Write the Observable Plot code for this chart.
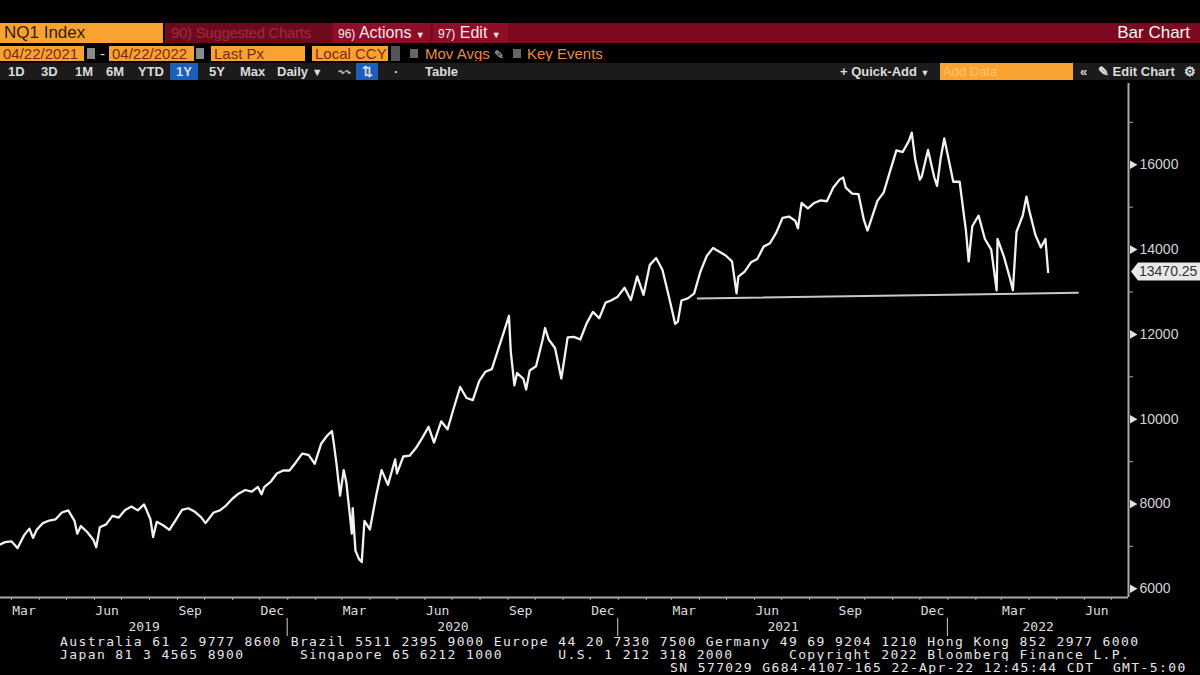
<!DOCTYPE html>
<html><head><meta charset="utf-8">
<script src="https://cdn.jsdelivr.net/npm/d3@7"></script>
<script src="https://cdn.jsdelivr.net/npm/@observablehq/plot@0.6"></script>
<style>
html,body{margin:0;padding:0;background:#000;}
body{width:1200px;height:675px;overflow:hidden;position:relative;font-family:"Liberation Sans Narrow","Liberation Sans",Arial,sans-serif;}
.a{position:absolute;white-space:pre;box-sizing:border-box;overflow:hidden;}
.r1{top:23px;height:20px;line-height:20px;font-size:17px;}
.r2{top:46px;height:15px;line-height:15px;font-size:15px;}
.r3{top:63px;height:17px;line-height:17px;font-size:13px;color:#dcdcdc;font-weight:bold;}
.or{background:#f8a331;color:#3a1a05;padding-left:4px;}
.or2{background:#f8a331;color:#7d2a10;padding-left:3px;}
.red{background:#7b0a20;}
.btn{background:#8e0e28;color:#f3e6e8;padding-left:5px;font-size:16px;}
.ic{background:#8a8a8a;}
.foot{font-family:"DejaVu Sans Mono",monospace;font-size:13px;letter-spacing:1.4px;color:#e6e6e6;line-height:13px;}
#chart{position:absolute;left:0;top:80px;}
</style></head>
<body>
<!-- row 1 -->
<div class="a r1 or" style="left:0;width:163px;">NQ1 Index</div>
<div class="a r1 red" style="left:165px;width:1035px;"></div>
<div class="a r1" style="left:166px;width:164px;background:#6f0a1d;color:#9c2a3e;padding-left:5px;font-size:15px;letter-spacing:-0.3px;">90) Suggested Charts</div>
<div class="a r1 btn" style="left:333px;width:97px;"><span style="font-size:12px">96)</span> Actions <span style="font-size:9px">▼</span></div>
<div class="a r1 btn" style="left:433px;width:75px;"><span style="font-size:12px">97)</span> Edit <span style="font-size:9px">▼</span></div>
<div class="a r1" style="right:10px;width:120px;text-align:right;color:#f4f4f4;">Bar Chart</div>
<!-- row 2 -->
<div class="a r2 or2" style="left:0;width:84px;">04/22/2021</div>
<div class="a r2 ic" style="left:87px;width:8px;top:48px;height:11px;"></div>
<div class="a r2" style="left:100px;width:8px;color:#ddd;">-</div>
<div class="a r2 or2" style="left:109px;width:85px;">04/22/2022</div>
<div class="a r2 ic" style="left:196px;width:8px;top:48px;height:11px;"></div>
<div class="a r2 or2" style="left:211px;width:94px;">Last Px</div>
<div class="a r2 or2" style="left:312px;width:76px;">Local CCY</div>
<div class="a r2 ic" style="left:391px;width:9px;background:#555;"></div>
<div class="a r2 ic" style="left:410px;width:8px;top:49px;height:9px;background:#666;"></div>
<div class="a r2" style="left:425px;width:80px;color:#e58a45;">Mov Avgs <span style="color:#ddd;font-size:12px">✎</span></div>
<div class="a r2 ic" style="left:513px;width:8px;top:49px;height:9px;background:#666;"></div>
<div class="a r2" style="left:527px;width:90px;color:#e58a45;">Key Events</div>
<!-- row 3 -->
<div class="a r3" style="left:0;width:1200px;background:#1b1b1b;"></div>
<div class="a r3" style="left:8px;">1D</div>
<div class="a r3" style="left:41px;">3D</div>
<div class="a r3" style="left:75px;">1M</div>
<div class="a r3" style="left:106px;">6M</div>
<div class="a r3" style="left:138px;">YTD</div>
<div class="a r3" style="left:170px;width:28px;background:#1b5fb8;text-align:center;">1Y</div>
<div class="a r3" style="left:209px;">5Y</div>
<div class="a r3" style="left:240px;">Max</div>
<div class="a r3" style="left:277px;">Daily <span style="font-size:11px">▼</span></div>
<div class="a r3" style="left:338px;color:#aaa;font-weight:normal;">〰</div>
<div class="a r3" style="left:356px;width:22px;background:#1b5fb8;text-align:center;">⇅</div>
<div class="a r3" style="left:394px;">·</div>
<div class="a r3" style="left:425px;">Table</div>
<div class="a r3" style="left:840px;">+ Quick-Add <span style="font-size:9px">▼</span></div>
<div class="a r3" style="left:940px;width:133px;background:#f8a331;color:#fbc36a;font-weight:normal;padding-left:3px;">Add Data</div>
<div class="a r3" style="left:1080px;">«</div>
<div class="a r3" style="left:1098px;">✎ Edit Chart</div>
<div class="a r3" style="left:1184px;">⚙</div>

<div id="chart"></div>

<div class="a foot" style="left:60px;top:635px;">Australia 61 2 9777 8600 Brazil 5511 2395 9000 Europe 44 20 7330 7500 Germany 49 69 9204 1210 Hong Kong 852 2977 6000
Japan 81 3 4565 8900      Singapore 65 6212 1000      U.S. 1 212 318 2000      Copyright 2022 Bloomberg Finance L.P.</div>
<div class="a foot" style="left:670px;top:661px;">SN 577029 G684-4107-165 22-Apr-22 12:45:44 CDT  GMT-5:00</div>

<script>
// ---- data ----
const priceDates = [
"2019-02-15","2019-02-22","2019-03-01","2019-03-08","2019-03-15","2019-03-21","2019-03-25","2019-03-29","2019-04-05","2019-04-12",
"2019-04-19","2019-04-26","2019-05-03","2019-05-10","2019-05-13","2019-05-17","2019-05-24","2019-05-31","2019-06-03","2019-06-07",
"2019-06-14","2019-06-21","2019-06-28","2019-07-05","2019-07-12","2019-07-19","2019-07-26","2019-08-02","2019-08-05","2019-08-09",
"2019-08-16","2019-08-23","2019-08-30","2019-09-06","2019-09-13","2019-09-20","2019-09-27","2019-10-02","2019-10-11","2019-10-18",
"2019-10-25","2019-11-01","2019-11-08","2019-11-15","2019-11-22","2019-11-29","2019-12-03","2019-12-06","2019-12-13","2019-12-20",
"2019-12-27","2020-01-03","2020-01-10","2020-01-17","2020-01-24","2020-01-31","2020-02-07","2020-02-14","2020-02-19","2020-02-21",
"2020-02-24","2020-02-28","2020-03-03","2020-03-06","2020-03-09","2020-03-12","2020-03-13","2020-03-16","2020-03-20","2020-03-23",
"2020-03-26","2020-04-01","2020-04-08","2020-04-14","2020-04-21","2020-04-29","2020-05-01","2020-05-08","2020-05-15","2020-05-22",
"2020-05-29","2020-06-05","2020-06-11","2020-06-19","2020-06-26","2020-07-02","2020-07-10","2020-07-17","2020-07-24","2020-07-31",
"2020-08-07","2020-08-14","2020-08-21","2020-08-28","2020-09-02","2020-09-04","2020-09-08","2020-09-11","2020-09-18","2020-09-21",
"2020-09-25","2020-10-02","2020-10-09","2020-10-12","2020-10-16","2020-10-23","2020-10-30","2020-11-06","2020-11-13","2020-11-20",
"2020-11-27","2020-12-04","2020-12-11","2020-12-18","2020-12-24","2020-12-31","2021-01-08","2021-01-15","2021-01-22","2021-01-29",
"2021-02-05","2021-02-12","2021-02-19","2021-02-26","2021-03-05","2021-03-08","2021-03-12","2021-03-19","2021-03-26","2021-04-02",
"2021-04-09","2021-04-16","2021-04-23","2021-04-30","2021-05-07","2021-05-12","2021-05-14","2021-05-21","2021-05-28","2021-06-04",
"2021-06-11","2021-06-18","2021-06-25","2021-07-02","2021-07-09","2021-07-16","2021-07-19","2021-07-23","2021-07-30","2021-08-06",
"2021-08-13","2021-08-20","2021-08-27","2021-09-03","2021-09-07","2021-09-10","2021-09-17","2021-09-24","2021-09-30","2021-10-04",
"2021-10-08","2021-10-15","2021-10-22","2021-10-29","2021-11-05","2021-11-12","2021-11-19","2021-11-22","2021-11-26","2021-12-01",
"2021-12-03","2021-12-10","2021-12-17","2021-12-20","2021-12-24","2021-12-28","2021-12-31","2022-01-07","2022-01-14","2022-01-21",
"2022-01-24","2022-01-28","2022-02-04","2022-02-11","2022-02-18","2022-02-24","2022-02-25","2022-03-04","2022-03-11","2022-03-14",
"2022-03-18","2022-03-25","2022-03-29","2022-04-01","2022-04-08","2022-04-14","2022-04-19","2022-04-22"];
const priceValues = [
7030,7100,7120,6960,7260,7420,7200,7390,7550,7610,
7640,7800,7850,7600,7300,7480,7340,7150,6980,7450,
7520,7720,7680,7860,7940,7850,7990,7640,7220,7580,
7500,7390,7620,7860,7900,7820,7690,7550,7800,7850,
7970,8130,8250,8330,8290,8400,8230,8400,8520,8720,
8790,8790,8980,9190,9160,8950,9420,9620,9720,9440,
8950,8200,8800,8500,7900,7300,7900,6900,6700,6630,
7600,7400,8200,8800,8450,9050,8720,9120,9140,9320,
9560,9820,9450,9950,9760,10200,10760,10500,10450,10900,
11120,11180,11640,12100,12440,11600,10800,11090,10950,10700,
11150,11250,11850,12150,11880,11680,10960,11930,11940,11880,
12260,12530,12380,12750,12800,12880,13100,12810,13370,12930,
13640,13800,13520,12900,12250,12300,12800,12850,12960,13480,
13850,14040,13950,13860,13720,12970,13360,13480,13700,13780,
14070,14150,14400,14750,14780,14680,14500,15100,14970,15100,
15160,15140,15460,15650,15700,15460,15320,15310,14700,14450,
14700,15150,15350,15850,16340,16300,16570,16760,16100,15650,
15720,16350,15700,15500,16150,16620,16320,15600,15600,14450,
13720,14550,14800,14250,14000,13040,14250,13840,13300,13040,
14420,14810,15250,14930,14340,14050,14250,13470];
const supportDates = ["2021-03-30","2022-05-25"];
const supportValues = [12845, 12980];
const lastPrice = 13470.25;
const yMajorTicks = [6000, 8000, 10000, 12000, 14000, 16000];
const yMinorTicks = [7000, 9000, 11000, 13000, 15000, 17000];
const monthLabels = ["Mar","Jun","Sep","Dec"];
const years = [2019, 2020, 2021, 2022];

// ---- build ----
const parse = d3.utcParse("%Y-%m-%d");
const price = priceDates.map((d, i) => ({date: parse(d), value: priceValues[i]}));
const support = supportDates.map((d, i) => ({date: parse(d), value: supportValues[i]}));
const xDomain = [new Date(Date.UTC(2019,1,17)), new Date(Date.UTC(2022,6,20))];
const yDomain = [5795, 17917];
const monthStarts = d3.utcMonth.range(xDomain[0], xDomain[1]);
const monthMids = monthStarts
  .filter(d => monthLabels.includes(d3.utcFormat("%b")(d)))
  .map(d => new Date(Date.UTC(d.getUTCFullYear(), d.getUTCMonth(), 15)));
const yearStarts = years.slice(1).map(y => new Date(Date.UTC(y,0,1)));
const yearMids = years.map(y => {
  const a = Math.max(+new Date(Date.UTC(y,0,1)), +xDomain[0]);
  const b = Math.min(+new Date(Date.UTC(y+1,0,1)), +xDomain[1]);
  return new Date((a + b) / 2);
});
const mono = "DejaVu Sans Mono, monospace";
const axisGray = "#a8a8a8";

const plot = Plot.plot({
  width: 1200, height: 565,
  marginTop: 3, marginBottom: 48, marginLeft: 0, marginRight: 72,
  style: {background: "transparent", color: "#d8d8d8", overflow: "visible"},
  x: {type: "utc", domain: xDomain, label: null},
  y: {domain: yDomain, label: null},
  marks: [
    Plot.line(price, {x: "date", y: "value", stroke: "#f2f2f2", strokeWidth: 2.3, clip: true}),
    Plot.line(support, {x: "date", y: "value", stroke: "#c8c8c8", strokeWidth: 2}),
    Plot.ruleY([yDomain[0]], {stroke: axisGray, strokeWidth: 2}),
    Plot.ruleX([xDomain[1]], {stroke: axisGray, strokeWidth: 2}),
    Plot.axisX({ticks: monthStarts, tickSize: 3, tickFormat: () => "", stroke: axisGray, label: null}),
    Plot.axisX({ticks: monthMids, tickSize: 0, tickPadding: 8, tickFormat: d3.utcFormat("%b"),
      fontFamily: mono, fontSize: 13, fill: "#dedede", label: null}),
    Plot.axisX({ticks: yearMids, tickSize: 0, tickPadding: 24, tickFormat: d3.utcFormat("%Y"),
      fontFamily: mono, fontSize: 13, fill: "#dedede", label: null}),
    Plot.axisY({anchor: "right", ticks: yMinorTicks, tickSize: 4, tickFormat: () => "", stroke: axisGray, label: null}),
    Plot.axisY({anchor: "right", ticks: yMajorTicks, tickSize: 0, tickPadding: 11, tickFormat: d => String(d),
      fontFamily: "Liberation Sans, Arial, sans-serif", fontSize: 14, fill: "#d4d4d4", label: null}),
    Plot.dot(yMajorTicks, {y: d => d, frameAnchor: "right", dx: 4, symbol: "triangle", rotate: 90, r: 3.2, fill: "#e0e0e0", stroke: "none"})
  ]
});
document.getElementById("chart").appendChild(plot);

// year separators and last-price tag, positioned through the plot's own scales
const sx = plot.scale("x"), sy = plot.scale("y");
const svg = d3.select(plot);
const xR = sx.apply(xDomain[1]);
svg.append("g").selectAll("line").data(yearStarts).join("line")
  .attr("x1", d => sx.apply(d)).attr("x2", d => sx.apply(d))
  .attr("y1", 538).attr("y2", 556).attr("stroke", "#cfcfcf").attr("stroke-width", 1);
const ly = sy.apply(lastPrice);
const tag = svg.append("g").attr("text-anchor", "start");
tag.append("path")
  .attr("d", `M${xR+3},${ly} L${xR+10},${ly-9} L1200,${ly-9} L1200,${ly+9} L${xR+10},${ly+9} Z`)
  .attr("fill", "#e9e9e9");
tag.append("text").attr("x", xR + 11).attr("y", ly).attr("dy", "0.35em")
  .attr("text-anchor", "start")
  .attr("font-family", "Liberation Sans, Arial, sans-serif").attr("font-size", 14)
  .attr("fill", "#333").text(String(lastPrice));
</script>
</body></html>
